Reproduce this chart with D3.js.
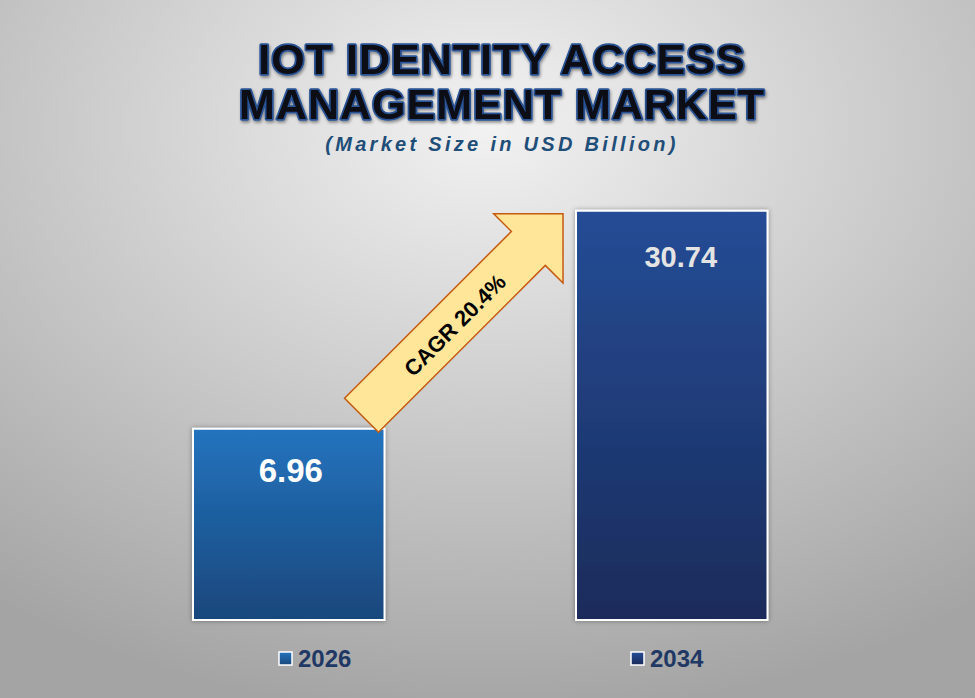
<!DOCTYPE html>
<html>
<head>
<meta charset="utf-8">
<script src="https://cdn.jsdelivr.net/npm/d3@7"></script>
<style>
  body { margin: 0; background: #fff; }
  svg { display: block; font-family: "Liberation Sans", Arial, sans-serif; }
</style>
</head>
<body>
<svg width="975" height="698"></svg>
<script>
// data
var years = ["2026", "2034"];
var values = [6.96, 30.74];
var labels = ["6.96", "30.74"];
var cagr = "CAGR 20.4%";
var titleLines = ["IOT IDENTITY ACCESS", "MANAGEMENT MARKET"];
var subtitle = "(Market Size in USD Billion)";

var svg = d3.select("svg");
var defs = svg.append("defs");

// background
var bg = defs.append("radialGradient").attr("id", "bgGrad")
    .attr("cx", "50%").attr("cy", "18%").attr("r", "85%");
bg.append("stop").attr("offset", "0%").attr("stop-color", "#f2f2f2");
bg.append("stop").attr("offset", "100%").attr("stop-color", "#a4a4a4");
svg.append("rect").attr("width", 975).attr("height", 698).attr("fill", "url(#bgGrad)");

// bar gradients
var barColors = [["#2373be", "#19477c"], ["#254d96", "#1a2b5a"]];
barColors.forEach(function (c, i) {
    var g = defs.append("linearGradient").attr("id", "barGrad" + i)
        .attr("x1", 0).attr("y1", 0).attr("x2", 0).attr("y2", 1);
    g.append("stop").attr("offset", "0%").attr("stop-color", c[0]);
    g.append("stop").attr("offset", "100%").attr("stop-color", c[1]);
});

var shadow = defs.append("filter").attr("id", "shadow")
    .attr("x", "-10%").attr("y", "-10%").attr("width", "120%").attr("height", "120%");
shadow.append("feDropShadow").attr("dx", 0).attr("dy", 0).attr("stdDeviation", 2.5)
    .attr("flood-color", "#000").attr("flood-opacity", 0.35);

var glow = defs.append("filter").attr("id", "glow")
    .attr("x", "-5%").attr("y", "-20%").attr("width", "110%").attr("height", "140%");
glow.append("feDropShadow").attr("dx", 1).attr("dy", 2).attr("stdDeviation", 1.5)
    .attr("flood-color", "#000").attr("flood-opacity", 0.4);

// scales
var xScale = d3.scaleBand().domain(years).range([97.25, 863.25])
    .paddingInner(0.5).paddingOuter(0.25);
var yScale = d3.scaleLinear().domain([-13.9, 35]).range([620, 171.7]);

// title
svg.selectAll("text.title").data(titleLines).enter().append("text")
    .attr("class", "title")
    .attr("x", 502)
    .attr("y", function (d, i) { return 74 + i * 45; })
    .attr("text-anchor", "middle")
    .style("font-size", "43px").style("font-weight", "bold").style("letter-spacing", "1px")
    .style("fill", "#0b0d18").style("stroke", "#2a5394").style("stroke-width", 3.5)
    .style("paint-order", "stroke").style("stroke-linejoin", "round")
    .attr("filter", "url(#glow)")
    .text(function (d) { return d; });

svg.append("text").attr("x", 502).attr("y", 151).attr("text-anchor", "middle")
    .style("font-size", "20px").style("font-weight", "bold").style("font-style", "italic")
    .style("letter-spacing", "3.3px").style("fill", "#1f4e79")
    .text(subtitle);

// bars
svg.selectAll("rect.bar").data(values).enter().append("rect")
    .attr("class", "bar")
    .attr("x", function (d, i) { return xScale(years[i]); })
    .attr("y", function (d) { return yScale(d); })
    .attr("width", xScale.bandwidth())
    .attr("height", function (d) { return yScale(yScale.domain()[0]) - yScale(d); })
    .attr("fill", function (d, i) { return "url(#barGrad" + i + ")"; })
    .style("stroke", "#fff").style("stroke-width", 2)
    .attr("filter", "url(#shadow)");

svg.selectAll("text.value").data(values).enter().append("text")
    .attr("class", "value")
    .attr("x", function (d, i) { return xScale(years[i]) + xScale.bandwidth() / 2 + (i === 0 ? 2 : 9); })
    .attr("y", function (d, i) { return yScale(d) + (i === 0 ? 53 : 56); })
    .attr("text-anchor", "middle")
    .style("font-size", function (d, i) { return i === 0 ? "33px" : "29px"; })
    .style("font-weight", "bold")
    .style("fill", function (d, i) { return i === 0 ? "#ffffff" : "#e4e4e4"; })
    .text(function (d, i) { return labels[i]; });

// CAGR arrow, from top-right of first bar to top-left of second
var x0 = xScale(years[0]) + xScale.bandwidth() - 23, y0 = yScale(values[0]) - 13.5;
var x1 = xScale(years[1]) - 13, y1 = yScale(values[1]) + 3;
var len = Math.hypot(x1 - x0, y1 - y0);
var ang = Math.atan2(y1 - y0, x1 - x0) * 180 / Math.PI;
var head = 49, hw = 24, hh = 49;
var arrowPts = [[0, -hw], [len - head, -hw], [len - head, -hh], [len, 0],
    [len - head, hh], [len - head, hw], [0, hw]];
var arrow = svg.append("g").attr("transform", "translate(" + x0 + "," + y0 + ") rotate(" + ang + ")");
arrow.append("path")
    .attr("d", d3.line()(arrowPts) + "Z")
    .style("fill", "#ffe699").style("stroke", "#c55a11").style("stroke-width", 1.5);
arrow.append("text")
    .attr("x", (len - head) * 0.55).attr("y", 10)
    .attr("text-anchor", "middle")
    .style("font-size", "22px").style("font-weight", "bold").style("fill", "#000")
    .text(cagr);

// legend
var legendX = d3.scalePoint().domain(years).range([279, 631]);
var legend = svg.selectAll("g.legend").data(years).enter().append("g")
    .attr("class", "legend")
    .attr("transform", function (d) { return "translate(" + legendX(d) + ",652)"; });
legend.append("rect").attr("width", 13).attr("height", 13)
    .attr("fill", function (d, i) { return "url(#barGrad" + i + ")"; })
    .style("stroke", "#fff").style("stroke-width", 1.5);
legend.append("text").attr("x", 19).attr("y", 15)
    .style("font-size", "24px").style("font-weight", "bold").style("fill", "#1f3864")
    .text(function (d) { return d; });
</script>
</body>
</html>
